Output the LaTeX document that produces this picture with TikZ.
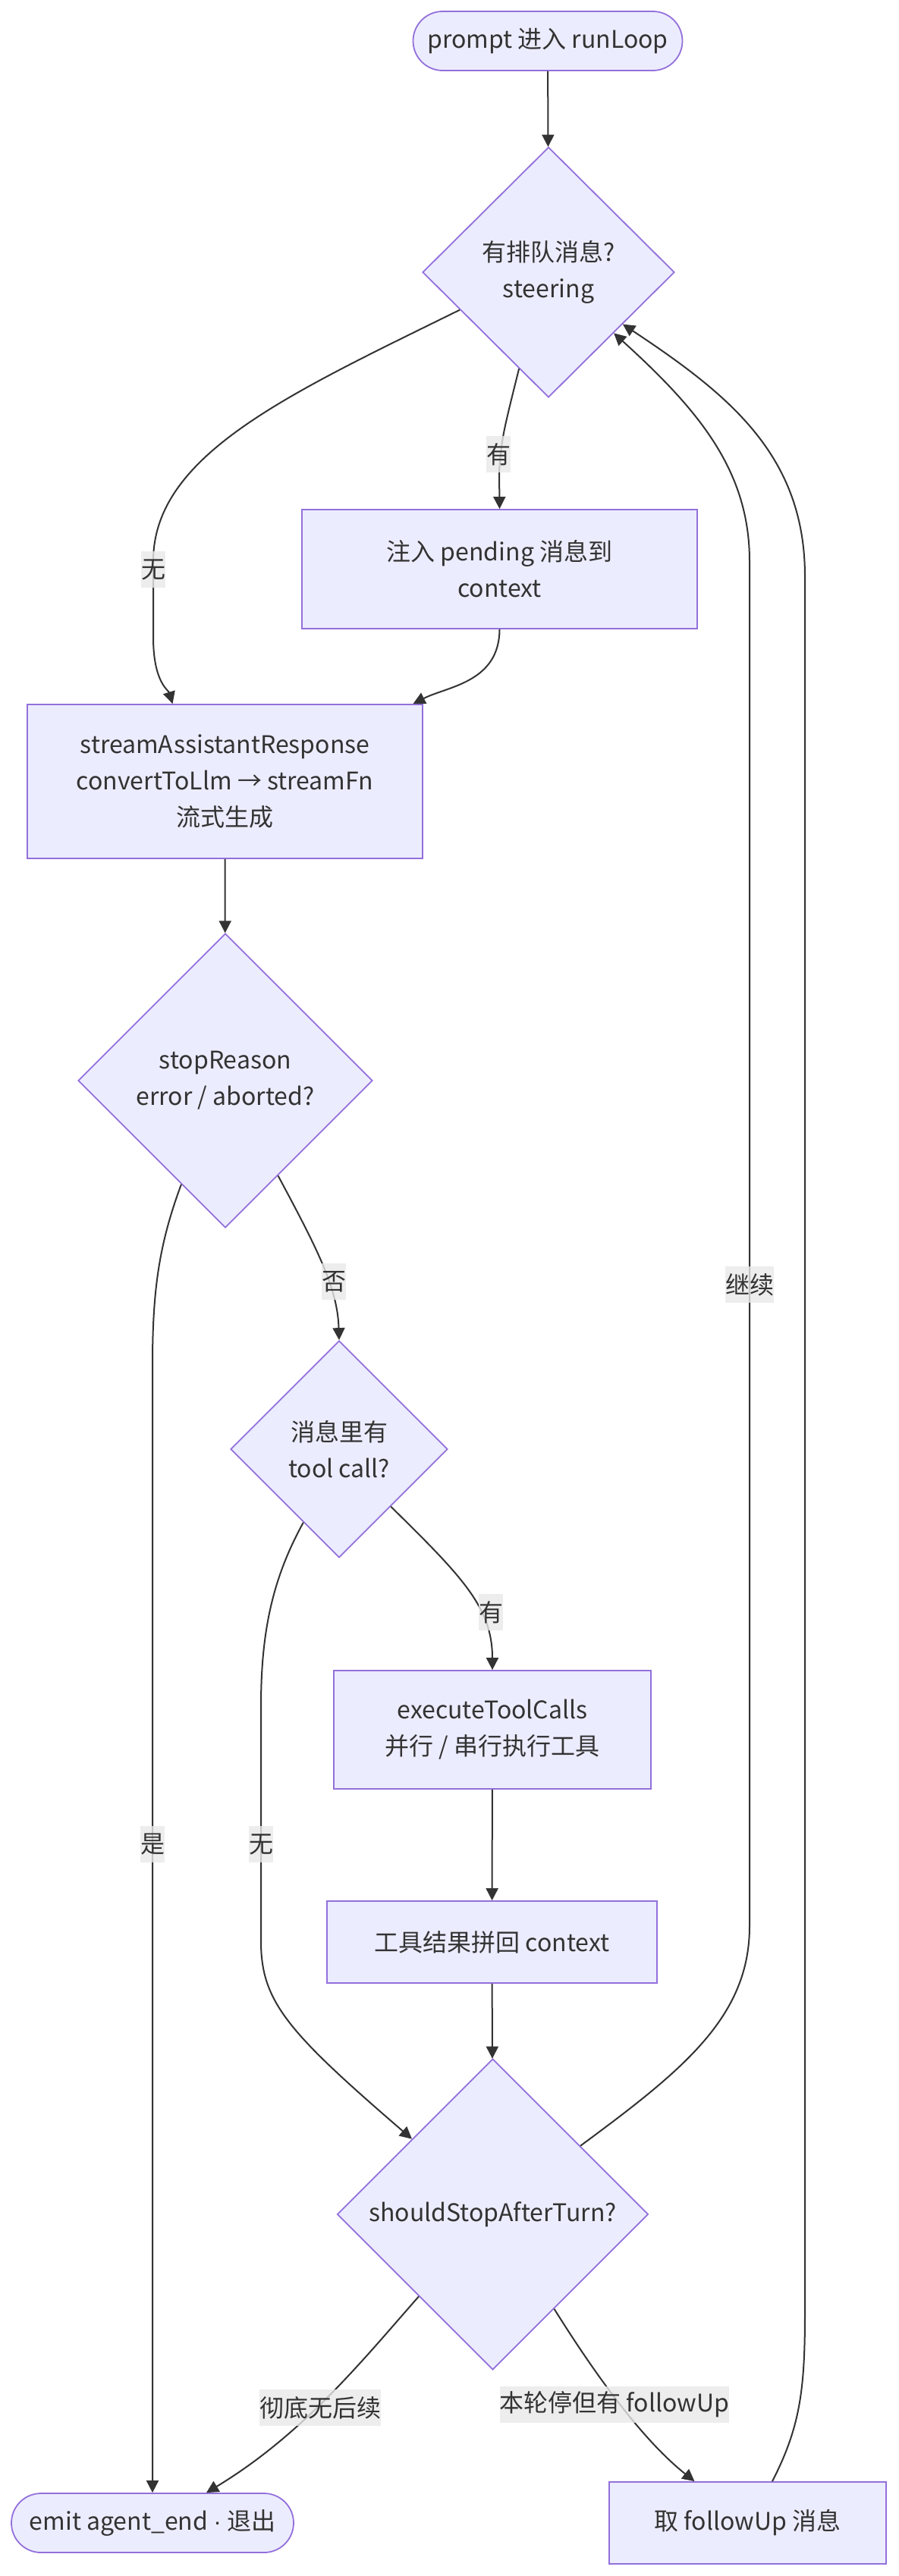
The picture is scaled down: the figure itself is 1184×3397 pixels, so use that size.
\documentclass[tikz,border=0pt]{standalone}
\usepackage{fontspec}
\setmainfont{Noto Sans CJK SC}
\newfontfamily\latinfont{Liberation Sans}
\usepackage{tikz}
\usetikzlibrary{shapes}
\usetikzlibrary{arrows.meta}
\definecolor{boxfill}{HTML}{ECECFF}
\definecolor{boxline}{HTML}{9370DB}
\definecolor{ink}{HTML}{333333}
\definecolor{lblfill}{HTML}{E8E8E8}
\tikzset{
	main node/.style={rectangle,draw=boxline,fill=boxfill,line width=1.8pt,text=ink,
		font=\fontsize{32}{48}\selectfont,align=center,inner sep=0pt},
	choice node/.style={main node,diamond,aspect=1},
	term node/.style={main node,rounded corners=39pt,minimum height=78pt},
	link label/.style={fill=lblfill,fill opacity=0.8,text opacity=1,text=ink,
		font=\fontsize{32}{48}\selectfont,inner sep=0pt,minimum height=48pt},
	flow/.style={draw=ink,line width=2pt}
}

\begin{document}
\begin{tikzpicture}[->,>={Triangle[length=16pt,width=16pt]},x=1pt,y=-1pt]
	\useasboundingbox (0,0) rectangle (1184,3397);
	% nodes
	\node [term node,minimum width=355pt] (start) at (722,54) {prompt 进入 runLoop};
	\node [choice node,minimum width=332pt,minimum height=330pt] (steer) at (723,359) {有排队消息?\\steering};
	\node [main node,minimum width=521pt,minimum height=157pt] (inject) at (658.5,750.5) {注入 pending 消息到\\context};
	\node [main node,minimum width=521pt,minimum height=203pt] (stream) at (296.5,1030.5) {streamAssistantResponse\\convertToLlm → streamFn\\流式生成};
	\node [choice node,minimum width=388pt,minimum height=388pt] (reason) at (297,1425) {stopReason\\error / aborted?};
	\node [choice node,minimum width=286pt,minimum height=286pt] (toolq) at (447,1911) {消息里有\\tool call?};
	\node [main node,minimum width=418pt,minimum height=156pt] (exec) at (649,2281) {executeToolCalls\\并行 / 串行执行工具};
	\node [main node,minimum width=435pt,minimum height=108pt] (result) at (648.5,2561) {工具结果拼回 context};
	\node [choice node,minimum width=410pt,minimum height=410pt] (turn) at (649.5,2920) {shouldStopAfterTurn?};
	\node [term node,minimum width=372pt] (emit) at (201,3327) {emit agent\_end {\latinfont ·} 退出};
	\node [main node,minimum width=365pt,minimum height=108pt] (follow) at (985.5,3327) {取 followUp 消息};
	% connectors
	\draw [flow] (start) -- (steer);
	\draw [flow] (steer.253) .. controls (662,575) .. (658,620) -- (inject.north);
	\draw [flow] (steer.203.5) .. controls (380,520) and (202,600) .. (202,740) -- (202,840)
		.. controls (202,900) and (222,910) .. ([xshift=-69pt]stream.north);
	\draw [flow] (inject.south) .. controls (658,900) and (590,905) .. ([xshift=248pt]stream.north);
	\draw [flow] (stream) -- (reason);
	\draw [flow] (reason.247) .. controls (210,1640) and (201,1700) .. (201,1800) -- (emit.north);
	\draw [flow] (reason.299.6) .. controls (420,1650) and (445,1700) .. (toolq.north);
	\draw [flow] (toolq.312.6) .. controls (610,2080) and (649,2120) .. (exec.north);
	\draw [flow] (toolq.244.7) .. controls (360,2080) and (344,2150) .. (344,2250) -- (344,2560)
		.. controls (344,2640) and (380,2680) .. (turn.137.8);
	\draw [flow] (exec) -- (result);
	\draw [flow] (result) -- (turn);
	\draw [flow] (turn.38.7) .. controls (900,2730) and (988,2660) .. (988,2540) -- (988,740)
		.. controls (988,620) and (920,540) .. (steer.317);
	\draw [flow] ([xshift=32.5pt]follow.north) .. controls (1055,3200) and (1061,3150) .. (1061,3050)
		-- (1061,760) .. controls (1061,600) and (960,520) .. (steer.325);
	\draw [flow] (turn.228) .. controls (480,3110) and (400,3210) .. ([xshift=71pt]emit.north);
	\draw [flow] (turn.303) .. controls (790,3140) and (850,3220) .. ([xshift=-70pt]follow.north);
	% labels
	\node [link label] (yes1) at (657,599) {有};
	\node [link label] (no1) at (202,751) {无};
	\node [link label] (no2) at (440,1690) {否};
	\node [link label] (yes2) at (201,2432) {是};
	\node [link label] (yes3) at (647,2126) {有};
	\node [link label] (no3) at (344,2432) {无};
	\node [link label] (again) at (988,1694) {继续};
	\node [link label] (done) at (422,3175) {彻底无后续};
	\node [link label] (more) at (810,3171) {本轮停但有 followUp};
\end{tikzpicture}
\end{document}
